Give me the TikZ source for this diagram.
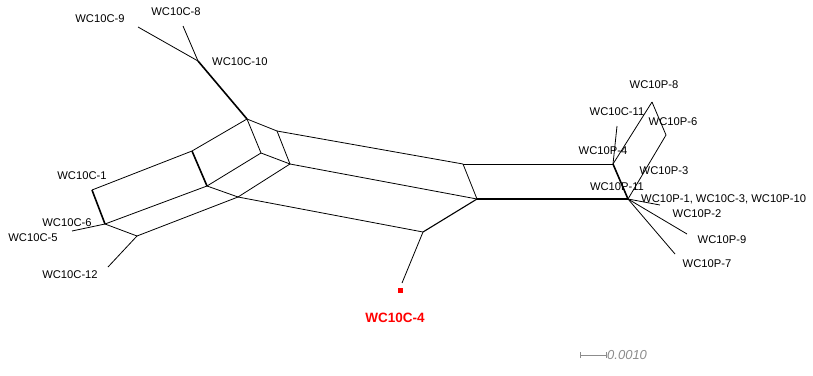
\documentclass[tikz,border=0pt]{standalone}
\usepackage{fontspec}
\setmainfont{Liberation Sans}
\usetikzlibrary{positioning}
\tikzset{
    edge/.style = {line width=0.8pt, black},
    thickedge/.style = {line width=1.6pt, black},
    taxon/.style = {inner sep=0pt, font=\fontsize{11.2}{13}\selectfont},
}
\definecolor{splitred}{RGB}{255,0,0}
\definecolor{bargray}{RGB}{140,140,140}

\begin{document}
\begin{tikzpicture}[x=1pt, y=-1pt]
\useasboundingbox (0,0) rectangle (813,375);

% splits graph vertices
\coordinate (c9)  at (138,27);
\coordinate (c8)  at (183,26);
\coordinate (n10) at (198,61);
\coordinate (nA)  at (247,119);
\coordinate (nB)  at (277,131);
\coordinate (nD)  at (261,153);
\coordinate (nE)  at (290,164);
\coordinate (nF)  at (192,151);
\coordinate (nG)  at (207,186);
\coordinate (c1)  at (92,190);
\coordinate (nH)  at (105,224);
\coordinate (c5)  at (72,231);
\coordinate (nI)  at (137,236);
\coordinate (c12) at (108,267);
\coordinate (nJ)  at (238,197);
\coordinate (nK)  at (423,232);
\coordinate (c4)  at (402,283);
\coordinate (nL)  at (463,164);
\coordinate (nM)  at (477,199);
\coordinate (nN)  at (613,164);
\coordinate (c11) at (617,126);
\coordinate (p8)  at (652,102);
\coordinate (p6)  at (666,135);
\coordinate (nC)  at (628,199);
\coordinate (p2)  at (660,205);
\coordinate (p9)  at (687,234);
\coordinate (p7)  at (675,254);

% edges
\draw[edge] (c9) -- (n10);
\draw[edge] (c8) -- (n10);
\draw[thickedge] (n10) -- (nA);
\draw[edge] (nA) -- (nF);
\draw[edge] (nA) -- (nD);
\draw[edge] (nA) -- (nB);
\draw[thickedge] (nF) -- (nG);
\draw[edge] (nF) -- (c1);
\draw[thickedge] (c1) -- (nH);
\draw[edge] (nH) -- (nG);
\draw[edge] (nH) -- (c5);
\draw[edge] (nH) -- (nI);
\draw[edge] (nI) -- (c12);
\draw[edge] (nI) -- (nJ);
\draw[edge] (nG) -- (nJ);
\draw[edge] (nG) -- (nD);
\draw[edge] (nD) -- (nE);
\draw[edge] (nJ) -- (nE);
\draw[edge] (nB) -- (nE);
\draw[edge] (nB) -- (nL);
\draw[edge] (nE) -- (nM);
\draw[edge] (nL) -- (nM);
\draw[edge] (nL) -- (nN);
\draw[thickedge] (nM) -- (nC);
\draw[edge] (nJ) -- (nK);
\draw[line width=1.1pt] (nK) -- (nM);
\draw[edge] (nK) -- (c4);
\draw[thickedge] (nN) -- (nC);
\draw[edge] (nN) -- (c11);
\draw[edge] (nN) -- (p8);
\draw[edge] (p8) -- (p6);
\draw[edge] (p6) -- (nC);
\draw[edge] (nC) -- (p2);
\draw[edge] (nC) -- (p9);
\draw[edge] (nC) -- (p7);

% taxa labels
\node[taxon] (l9)  at (100,19)  {WC10C-9};
\node[taxon] (l8)  at (176,12)  {WC10C-8};
\node[taxon, anchor=west] (l10) at (212,62) {WC10C-10};
\node[taxon] (l1)  at (82,176)  {WC10C-1};
\node[taxon] (l6)  at (67,223)  {WC10C-6};
\node[taxon] (l5)  at (33,238)  {WC10C-5};
\node[taxon] (l12) at (70,275)  {WC10C-12};
\node[taxon] (lp8) at (654,85)  {WC10P-8};
\node[taxon] (l11) at (617,112) {WC10C-11};
\node[taxon] (lp6) at (673,122) {WC10P-6};
\node[taxon] (lp4) at (603,151) {WC10P-4};
\node[taxon] (lp3) at (664,171) {WC10P-3};
\node[taxon] (lp11) at (617,187) {WC10P-11};
\node[taxon, anchor=west] (lp1) at (641,199) {WC10P-1, WC10C-3, WC10P-10};
\node[taxon] (lp2) at (697,214) {WC10P-2};
\node[taxon] (lp9) at (722,240) {WC10P-9};
\node[taxon] (lp7) at (707,264) {WC10P-7};

% highlighted taxon
\fill[splitred] (397.5,287.5) rectangle (402.5,292.5);
\node[taxon, text=splitred, font=\fontsize{13.5}{15}\selectfont\bfseries] (l4) at (395,318) {WC10C-4};

% scale bar
\coordinate (s0) at (580,355);
\coordinate (s1) at (606,355);
\draw[bargray, line width=0.8pt] (s0) -- (s1);
\draw[bargray, line width=0.8pt] ([yshift=-3pt]s0) -- ([yshift=3pt]s0);
\draw[bargray, line width=0.8pt] ([yshift=-3pt]s1) -- ([yshift=3pt]s1);
\node[taxon, text=bargray, font=\fontsize{13}{15}\selectfont\itshape, anchor=west] (sl) at (607,355) {0.0010};
\end{tikzpicture}
\end{document}
